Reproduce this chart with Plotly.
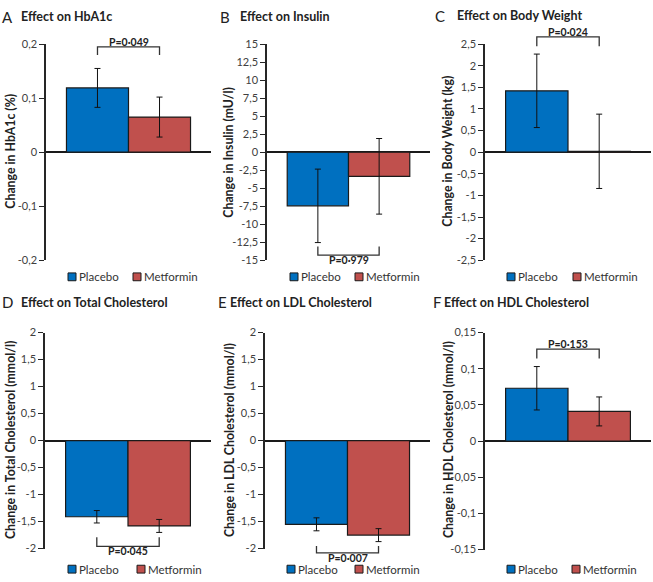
import plotly.graph_objects as go

W, H = 653, 582

# ---------------- data ----------------
groups = ["Placebo", "Metformin"]
group_colors = ["#0070C0", "#C0504D"]

letters = ["A", "B", "C", "D", "E", "F"]
titles = ["Effect on HbA1c", "Effect on Insulin", "Effect on Body Weight",
          "Effect on Total Cholesterol", "Effect on LDL Cholesterol", "Effect on HDL Cholesterol"]
ytitles = ["Change in HbA1c (%)", "Change in Insulin (mU/l)", "Change in Body Weight (kg)",
           "Change in Total Cholesterol (mmol/l)", "Change in LDL Cholesterol (mmol/l)",
           "Change in HDL Cholesterol (mmol/l)"]

hba1c_mean = [0.119, 0.065]
hba1c_err = [0.036, 0.037]
insulin_mean = [-7.45, -3.35]
insulin_err = [5.1, 5.25]
weight_mean = [1.42, 0.02]
weight_err = [0.85, 0.86]
tchol_mean = [-1.41, -1.58]
tchol_err = [0.115, 0.12]
ldl_mean = [-1.55, -1.75]
ldl_err = [0.12, 0.12]
hdl_mean = [0.073, 0.041]
hdl_err = [0.030, 0.020]

p_values = ["P=0·049", "P=0·979", "P=0·024", "P=0·045", "P=0·007", "P=0·153"]

tick_vals_A = [0.2, 0.1, 0, -0.1, -0.2]
tick_text_A = ["0,2", "0,1", "0", "-0,1", "-0,2"]
tick_vals_B = [15, 12.5, 10, 7.5, 5, 2.5, 0, -2.5, -5, -7.5, -10, -12.5, -15]
tick_text_B = ["15", "12,5", "10", "7,5", "5", "2,5", "0", "-2,5", "-5", "-7,5", "-10", "-12,5", "-15"]
tick_vals_C = [2.5, 2, 1.5, 1, 0.5, 0, -0.5, -1, -1.5, -2, -2.5]
tick_text_C = ["2,5", "2", "1,5", "1", "0,5", "0", "-0,5", "-1", "-1,5", "-2", "-2,5"]
tick_vals_D = [2, 1.5, 1, 0.5, 0, -0.5, -1, -1.5, -2]
tick_text_D = ["2", "1,5", "1", "0,5", "0", "-0,5", "-1", "-1,5", "-2"]
tick_vals_E = [2, 1.5, 1, 0.5, 0, -0.5, -1, -1.5, -2]
tick_text_E = ["2", "1,5", "1", "0,5", "0", "-0,5", "-1", "-1,5", "-2"]
tick_vals_F = [0.15, 0.1, 0.05, 0, -0.05, -0.1, -0.15]
tick_text_F = ["0,15", "0,1", "0,05", "0", "-0,05", "-0,1", "-0,15"]

y_ranges = [[-0.2, 0.2], [-15, 15], [-2.5, 2.5], [-2, 2], [-2, 2], [-0.15, 0.15]]

means = [hba1c_mean, insulin_mean, weight_mean, tchol_mean, ldl_mean, hdl_mean]
errs = [hba1c_err, insulin_err, weight_err, tchol_err, ldl_err, hdl_err]
tick_vals = [tick_vals_A, tick_vals_B, tick_vals_C, tick_vals_D, tick_vals_E, tick_vals_F]
tick_texts = [tick_text_A, tick_text_B, tick_text_C, tick_text_D, tick_text_E, tick_text_F]

# ---------------- layout geometry (pixels) ----------------
X_RANGE = [-0.83, 1.83]
geom = [
    dict(ax=(46, 211), ay=(38, 259), let=(1, 10), tit=(20, 10), yt=(11, 148), leg=(68, 133, 276),
         br=(0.195, 0.18, "top")),
    dict(ax=(267, 430), ay=(38, 259), let=(219, 10), tit=(239, 10), yt=(229, 148), leg=(290, 355, 276),
         br=(-14.3, -13.1, "bottom")),
    dict(ax=(485, 651), ay=(38, 259), let=(434, 9), tit=(456, 9), yt=(448, 148), leg=(507, 573, 276),
         br=(2.67, 2.45, "top")),
    dict(ax=(45, 211), ay=(333, 554), let=(1, 302), tit=(20, 302), yt=(10, 443), leg=(68, 137, 575),
         br=(-1.96, -1.79, "bottom")),
    dict(ax=(265, 430), ay=(333, 554), let=(217, 302), tit=(229, 302), yt=(229, 443), leg=(287, 355, 575),
         br=(-2.08, -1.95, "bottom")),
    dict(ax=(485, 651), ay=(333, 555), let=(432, 302), tit=(443, 302), yt=(448, 443), leg=(507, 572, 575),
         br=(0.127, 0.114, "top")),
]

FONT = "Lato"
AXIS_COLOR = "#262626"


def px(x):
    return x / W


def py(y):
    return 1 - y / H


def xfrac(v):
    return (v - X_RANGE[0]) / (X_RANGE[1] - X_RANGE[0])


def yfrac(v, r):
    return (v - r[0]) / (r[1] - r[0])


fig = go.Figure()
annotations = []
shapes = []
layout_axes = {}

for p in range(6):
    g = geom[p]
    n = "" if p == 0 else str(p + 1)
    xa, ya = "x" + n, "y" + n
    for i, grp in enumerate(groups):
        fig.add_trace(go.Bar(
            x=[i], y=[means[p][i]], width=1, name=grp, showlegend=False,
            marker=dict(color=group_colors[i], line=dict(color="#1a1a1a", width=1.2)),
            error_y=dict(type="data", array=[errs[p][i]], color="#111111", thickness=1, width=3),
            xaxis=xa, yaxis=ya,
        ))
    layout_axes["xaxis" + n] = dict(
        domain=[px(g["ax"][0]), px(g["ax"][1])], range=X_RANGE, anchor=ya,
        visible=False, showgrid=False, zeroline=False, fixedrange=True,
    )
    layout_axes["yaxis" + n] = dict(
        domain=[py(g["ay"][1]), py(g["ay"][0])], range=y_ranges[p], anchor=xa,
        showline=True, linecolor=AXIS_COLOR, linewidth=1.5,
        ticks="outside", ticklen=5, tickcolor=AXIS_COLOR, tickwidth=1.2,
        tickvals=tick_vals[p], ticktext=tick_texts[p],
        tickfont=dict(family=FONT, size=11, color="#404040"),
        showgrid=False, zeroline=True, zerolinecolor="#1a1a1a", zerolinewidth=1.6,
        fixedrange=True,
    )
    # panel letter and title
    annotations.append(dict(text=letters[p], x=px(g["let"][0]), y=py(g["let"][1]), xref="paper", yref="paper",
                            xanchor="left", yanchor="middle", showarrow=False, borderpad=0,
                            font=dict(family=FONT, size=15, color="#222222")))
    annotations.append(dict(text="<b>" + titles[p] + "</b>", x=px(g["tit"][0]), y=py(g["tit"][1]),
                            xref="paper", yref="paper", xanchor="left", yanchor="middle", showarrow=False,
                            borderpad=0, font=dict(family=FONT, size=12.5, color="#222222")))
    # y-axis title
    annotations.append(dict(text="<b>" + ytitles[p] + "</b>", x=px(g["yt"][0]), y=py(g["yt"][1]),
                            xref="paper", yref="paper", xanchor="center", yanchor="middle", showarrow=False,
                            textangle=-90, font=dict(family=FONT, size=12.3, color="#222222")))
    # significance bracket (domain-referenced so it may extend beyond the axis range)
    yl, yleg, side = g["br"]
    r = y_ranges[p]
    x0, x1 = xfrac(0), xfrac(1)
    yl_f, yleg_f = yfrac(yl, r), yfrac(yleg, r)
    shapes.append(dict(type="path", xref=xa + " domain", yref=ya + " domain",
                       path=f"M {x0} {yleg_f} L {x0} {yl_f} L {x1} {yl_f} L {x1} {yleg_f}",
                       line=dict(color="#333333", width=1.3), layer="above"))
    annotations.append(dict(text="<b>" + p_values[p] + "</b>", x=0.5, y=yl_f,
                            xref=xa + " domain", yref=ya + " domain",
                            xanchor="center", yanchor="bottom" if side == "top" else "top",
                            yshift=-2 if side == "top" else 2, showarrow=False, borderpad=0,
                            font=dict(family=FONT, size=10.5, color="#222222")))
    # legend
    lx = [g["leg"][0], g["leg"][1]]
    ly = g["leg"][2]
    for i, grp in enumerate(groups):
        shapes.append(dict(type="rect", xref="paper", yref="paper",
                           x0=px(lx[i]), x1=px(lx[i] + 8), y0=py(ly + 4), y1=py(ly - 4),
                           fillcolor=group_colors[i], line=dict(color="#1a1a1a", width=1)))
        annotations.append(dict(text=grp, x=px(lx[i] + 10), y=py(ly), xref="paper", yref="paper",
                                xanchor="left", yanchor="middle", showarrow=False, borderpad=0,
                                font=dict(family=FONT, size=11.5, color="#333333")))

fig.update_layout(
    width=W, height=H, autosize=False,
    margin=dict(l=0, r=0, t=0, b=0),
    paper_bgcolor="white", plot_bgcolor="white",
    barmode="overlay", showlegend=False,
    annotations=annotations, shapes=shapes,
    **layout_axes,
)

fig.write_html("out.html", config={"displayModeBar": False},
               post_script="document.body.style.margin='0';document.body.style.overflow='hidden';")
